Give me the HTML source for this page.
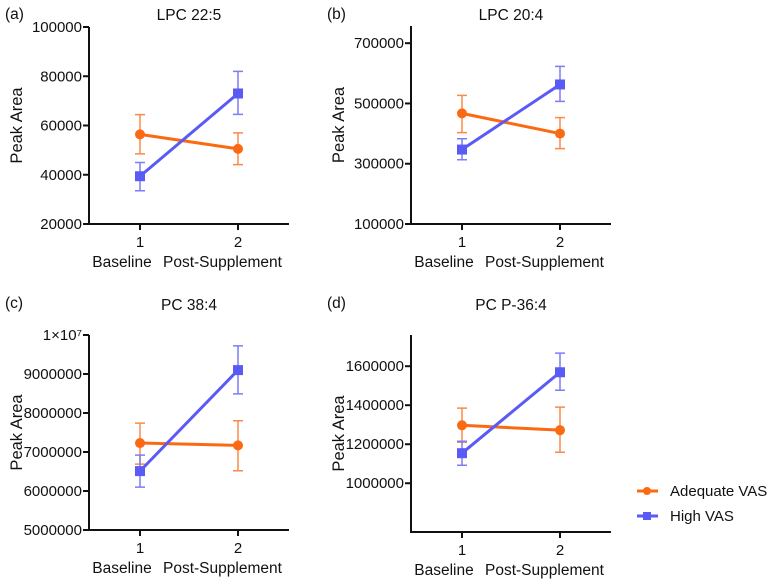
<!DOCTYPE html>
<html><head><meta charset="utf-8"><style>
body{margin:0;background:#fff;}
svg{display:block;font-family:"Liberation Sans",Arial,sans-serif;}
</style></head><body>
<svg id="c" width="778" height="581"></svg>
<script>
const categories=["1","2"];
const groupLabels=["Baseline","Post-Supplement"];
const seriesNames=["Adequate VAS","High VAS"];
const titles=["LPC 22:5","LPC 20:4","PC 38:4","PC P-36:4"];
const panelLetters=["(a)","(b)","(c)","(d)"];
const adequateMeans=[[56400,50500],[467000,400000],[7230000,7170000],[1297000,1272000]];
const adequateHi=[[64400,57000],[527000,453000],[7740000,7800000],[1385000,1390000]];
const adequateLo=[[48500,44100],[403000,350000],[6690000,6520000],[1210000,1159000]];
const highMeans=[[39400,73000],[347000,563000],[6510000,9100000],[1154000,1569000]];
const highHi=[[45000,82000],[383000,623000],[6920000,9720000],[1215000,1667000]];
const highLo=[[33500,64500],[313000,507000],[6100000,8490000],[1092000,1477000]];
const yTicks=[[20000,40000,60000,80000,100000],[100000,300000,500000,700000],[5000000,6000000,7000000,8000000,9000000,10000000],[1000000,1200000,1400000,1600000]];
const yTickLabels=[["20000","40000","60000","80000","100000"],["100000","300000","500000","700000"],["5000000","6000000","7000000","8000000","9000000","1×10⁷"],["1000000","1200000","1400000","1600000"]];
const yMin=[20000,100000,5000000,750000];
const yMax=[100000,757000,10000000,1760000];

const NS="http://www.w3.org/2000/svg";
const svg=document.getElementById('c');
function mk(tag,attrs,parent,text){const e=document.createElementNS(NS,tag);for(const k in attrs)e.setAttribute(k,attrs[k]);if(text!==undefined)e.textContent=text;(parent||svg).appendChild(e);return e;}
const OR="#fb6a12",BL="#5a5af5",ORl="#fb8a48",BLl="#7d7df7";
const layout=[{ax:89,top:27,bot:224},{ax:411,top:26,bot:224},{ax:89,top:335,bot:530},{ax:411,top:335,bot:532}];
for(let p=0;p<4;p++){
  const L=layout[p];
  const g=mk('g',{});
  
  
  const yS=v=>L.bot-(v-yMin[p])/(yMax[p]-yMin[p])*(L.bot-L.top);
  const xS=i=>L.ax+51+i*98;
  const letter=mk('text',{x:L.ax-84,y:(p<2?19:308),'font-size':15.5,fill:'#111'},g,panelLetters[p]);
  
  const t=mk('text',{x:L.ax+100,y:(p<2?20:310),'font-size':15.5,'text-anchor':'middle',fill:'#111'},g,titles[p]);
  
  const yt=mk('text',{transform:`translate(${L.ax-67},${(L.top+L.bot)/2}) rotate(-90)`,'font-size':16.5,'text-anchor':'middle',fill:'#111'},g,'Peak Area');
  
  const ya=mk('line',{x1:L.ax,y1:L.top,x2:L.ax,y2:L.bot+1,stroke:'#111','stroke-width':2},g);
  
  const xa=mk('line',{x1:L.ax-1,y1:L.bot,x2:L.ax+200,y2:L.bot,stroke:'#111','stroke-width':2},g);
  
  yTicks[p].forEach((v,i)=>{
    const y=yS(v);
    mk('line',{x1:L.ax-6,y1:y,x2:L.ax,y2:y,stroke:'#111','stroke-width':2},g);
    const tl=mk('text',{x:L.ax-7,y:y+5,'font-size':15,'text-anchor':'end',fill:'#111'},g,yTickLabels[p][i]);
    
  });
  categories.forEach((c,i)=>{
    const x=xS(i);
    mk('line',{x1:x,y1:L.bot,x2:x,y2:L.bot+6,stroke:'#111','stroke-width':2},g);
    const tl=mk('text',{x:x,y:L.bot+23,'font-size':15,'text-anchor':'middle',fill:'#111'},g,c);
    
  });
  const gl1=mk('text',{x:xS(0)-18,y:L.bot+43,'font-size':15.5,'text-anchor':'middle',fill:'#111'},g,groupLabels[0]);
  
  const gl2=mk('text',{x:xS(0)+23,y:L.bot+43,'font-size':15.5,fill:'#111'},g,groupLabels[1]);
  
  const series=[[adequateMeans[p],adequateHi[p],adequateLo[p],OR,ORl,'adequate'],[highMeans[p],highHi[p],highLo[p],BL,BLl,'high']];
  series.forEach(s=>{
    const [m,hi,lo,col,lcol,nm]=s;
    m.forEach((v,i)=>{
      const x=xS(i);
      const eb=mk('path',{d:`M${x},${yS(hi[i])}V${yS(lo[i])}M${x-5},${yS(hi[i])}H${x+5}M${x-5},${yS(lo[i])}H${x+5}`,stroke:lcol,'stroke-width':1.5,fill:'none'},g);
      
    });
    const ln=mk('line',{x1:xS(0),y1:yS(m[0]),x2:xS(1),y2:yS(m[1]),stroke:col,'stroke-width':3},g);
    
    m.forEach((v,i)=>{
      let mkEl;
      if(nm==='adequate') mkEl=mk('circle',{cx:xS(i),cy:yS(v),r:5,fill:col},g);
      else mkEl=mk('rect',{x:xS(i)-5,y:yS(v)-5,width:10,height:10,fill:col},g);
      
    });
  });
}
const lg=mk('g',{});

[[OR,'circle',491],[BL,'rect',516]].forEach((d,i)=>{
  const e=mk('g',{},lg);
  
  mk('line',{x1:637,y1:d[2],x2:658,y2:d[2],stroke:d[0],'stroke-width':3},e);
  if(d[1]==='circle') mk('circle',{cx:647,cy:d[2],r:4,fill:d[0]},e);
  else mk('rect',{x:643,y:d[2]-4,width:8,height:8,fill:d[0]},e);
  mk('text',{x:670,y:d[2]+5,'font-size':15,fill:'#111'},e,seriesNames[i]);
});
</script>
</body></html>
